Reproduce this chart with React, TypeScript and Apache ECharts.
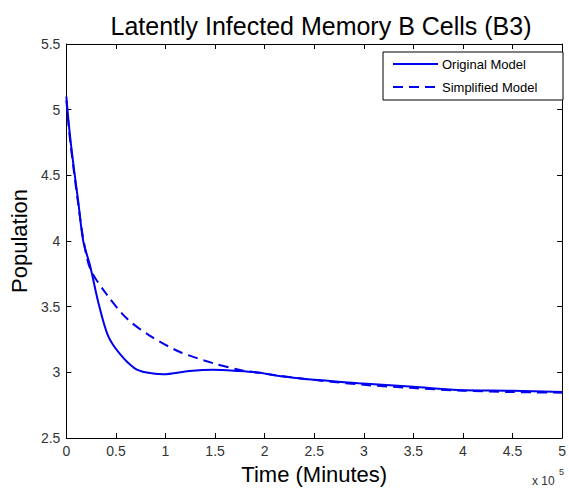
import React, { useEffect, useRef } from "react";
import * as echarts from "echarts";

const titleText = "Latently Infected Memory B Cells (B3)";
const xLabel = "Time (Minutes)";
const yLabel = "Population";
const seriesNames = ["Original Model", "Simplified Model"];

const origT = [0, 3000, 7300, 12000, 17000, 24000, 32000, 42000, 54000, 69000, 81000, 97500, 124000, 148000, 174000, 194000, 208000, 234000, 295000, 350000, 395000, 450000, 500000];
const origY = [5.1, 4.85, 4.57, 4.3, 4.0, 3.81, 3.54, 3.28, 3.14, 3.03, 2.998, 2.985, 3.01, 3.02, 3.01, 2.998, 2.98, 2.955, 2.917, 2.89, 2.866, 2.86, 2.85];

const simpT = [0, 3000, 7300, 12000, 17000, 24000, 41000, 61000, 84000, 114000, 148000, 174000, 200000, 240000, 300000, 350000, 400000, 450000, 500000];
const simpY = [5.07, 4.82, 4.55, 4.28, 4.02, 3.79, 3.59, 3.41, 3.28, 3.157, 3.07, 3.02, 2.99, 2.95, 2.905, 2.88, 2.86, 2.85, 2.845];

const xMin = 0;
const xMax = 500000;
const xStep = 50000;
const yMin = 2.5;
const yMax = 5.5;
const yStep = 0.5;

const FONT = "'Liberation Sans', Arial, sans-serif";
const BLUE = "#0000ee";
const DASH = [10, 6];

export default function App() {
  const ref = useRef<HTMLDivElement>(null);
  useEffect(() => {
    if (!ref.current) return;
    const chart = echarts.init(ref.current, undefined, { renderer: "svg" });
    const zip = (t: number[], y: number[]) => t.map((v, i) => [v, y[i]]);
    const axisCommon = {
      axisLine: { show: true, onZero: false, lineStyle: { color: "#000", width: 1 } },
      axisTick: { show: true, inside: true, length: 5, lineStyle: { color: "#000" } },
      splitLine: { show: false },
    };
    chart.setOption({
      animation: false,
      backgroundColor: "#fff",
      title: {
        text: titleText,
        left: 316,
        textAlign: "center",
        top: 8,
        textStyle: { fontFamily: FONT, fontSize: 25, fontWeight: "normal", color: "#000" },
      },
      grid: { left: 66, top: 44, right: 3, bottom: 50 },
      xAxis: [
        {
          type: "value",
          min: xMin,
          max: xMax,
          interval: xStep,
          ...axisCommon,
          axisLabel: {
            fontFamily: FONT,
            fontSize: 14,
            color: "#333",
            margin: 6,
            formatter: (v: number) => String(v / 100000),
          },
          name: xLabel,
          nameLocation: "middle",
          nameGap: 25,
          nameTextStyle: { fontFamily: FONT, fontSize: 22, color: "#000" },
        },
        {
          type: "value",
          position: "top",
          min: xMin,
          max: xMax,
          interval: xStep,
          ...axisCommon,
          axisLabel: { show: false },
        },
      ],
      yAxis: [
        {
          type: "value",
          min: yMin,
          max: yMax,
          interval: yStep,
          ...axisCommon,
          axisLabel: { fontFamily: FONT, fontSize: 14, color: "#333", margin: 6 },
          name: yLabel,
          nameLocation: "middle",
          nameGap: 33,
          nameTextStyle: { fontFamily: FONT, fontSize: 22, color: "#000" },
        },
        {
          type: "value",
          position: "right",
          min: yMin,
          max: yMax,
          interval: yStep,
          ...axisCommon,
          axisLabel: { show: false },
        },
      ],
      graphic: [
        {
          type: "text",
          left: 532,
          top: 475,
          style: { text: "x 10", fontFamily: FONT, fontSize: 12, fill: "#333" },
        },
        {
          type: "text",
          left: 559,
          top: 467,
          style: { text: "5", fontFamily: FONT, fontSize: 9, fill: "#333" },
        },
        {
          type: "rect",
          shape: { x: 383, y: 52, width: 180, height: 48 },
          style: { fill: "#fff", stroke: "#000", lineWidth: 1 },
          z: 100,
        },
        {
          type: "line",
          shape: { x1: 393, y1: 64, x2: 438, y2: 64 },
          style: { stroke: BLUE, lineWidth: 2 },
          z: 101,
        },
        {
          type: "line",
          shape: { x1: 393, y1: 87, x2: 438, y2: 87 },
          style: { stroke: BLUE, lineWidth: 2, lineDash: DASH },
          z: 101,
        },
        {
          type: "text",
          x: 442,
          y: 64,
          style: { text: seriesNames[0], fontFamily: FONT, fontSize: 13, fill: "#000", verticalAlign: "middle" },
          z: 101,
        },
        {
          type: "text",
          x: 442,
          y: 87,
          style: { text: seriesNames[1], fontFamily: FONT, fontSize: 13, fill: "#000", verticalAlign: "middle" },
          z: 101,
        },
      ],
      series: [
        {
          name: seriesNames[0],
          type: "line",
          data: zip(origT, origY),
          showSymbol: false,
          symbol: "none",
          smooth: 0.3,
          lineStyle: { color: BLUE, width: 2 },
          itemStyle: { color: BLUE },
        },
        {
          name: seriesNames[1],
          type: "line",
          data: zip(simpT, simpY),
          showSymbol: false,
          symbol: "none",
          smooth: 0.3,
          lineStyle: { color: BLUE, width: 2, type: DASH },
          itemStyle: { color: BLUE },
        },
      ],
    });
    return () => chart.dispose();
  }, []);
  return (
    <div
      ref={ref}
      style={{ position: "absolute", left: 0, top: 0, width: 569, height: 490 }}
    />
  );
}
